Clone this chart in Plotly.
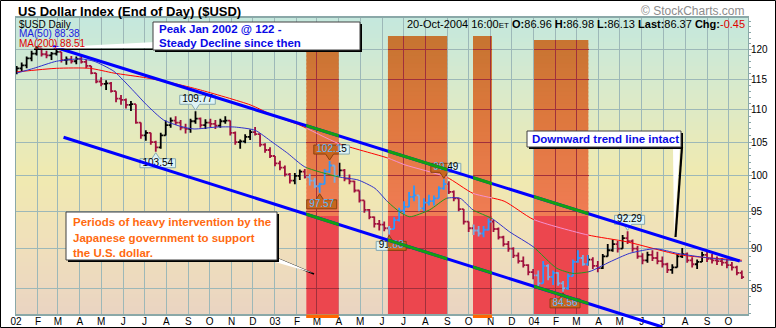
import numpy as np
import pandas as pd
import plotly.graph_objects as go

FONT = "Liberation Sans, Arial, sans-serif"

# ---------------- data ----------------
# Weekly bars of the US Dollar Index (mid-week dates)
week_dates = pd.date_range("2002-01-02", periods=147, freq="7D")
usd_open = [
    116.3, 116.8, 117.3, 118.5, 119.3, 120.2, 119.2, 119.0, 119.3, 119.6,
    118.2, 118.3, 118.0, 118.4, 117.9, 117.2, 116.0, 114.6, 114.2, 114.3,
    113.0, 111.8, 111.6, 110.8, 110.9, 108.0, 106.0, 106.4, 105.0, 104.2,
    106.0, 107.6, 108.3, 108.0, 107.2, 107.0, 108.2, 108.6, 107.6, 108.0,
    107.8, 107.5, 108.2, 108.3, 106.4, 105.0, 105.1, 105.8, 106.5, 106.2,
    104.6, 103.8, 102.9, 101.8, 101.2, 100.2, 99.3, 100.0, 100.6, 99.8,
    99.3, 98.5, 98.8, 100.6, 101.5, 100.0, 100.8, 99.6, 99.2, 97.9,
    96.5, 95.2, 94.2, 93.3, 93.2, 92.7, 92.6, 93.8, 95.1, 95.6,
    97.0, 97.2, 95.4, 96.2, 96.4, 96.8, 98.2, 98.8, 97.7, 96.8,
    95.3, 93.6, 92.7, 92.4, 92.0, 92.5, 93.6, 92.6, 91.5, 90.6,
    90.0, 89.1, 88.4, 87.9, 87.0, 86.6, 85.6, 87.8, 86.4, 86.9,
    85.6, 85.0, 86.5, 88.3, 88.8, 88.0, 88.6, 87.8, 87.5, 89.0,
    89.8, 90.6, 90.0, 91.4, 91.0, 90.0, 89.0, 88.5, 89.2, 88.8,
    88.4, 88.0, 87.3, 87.6, 89.0, 89.3, 88.5, 88.0, 88.3, 89.2,
    88.7, 88.5, 88.4, 88.2, 87.9, 87.6, 86.9,
]
usd_high = [
    117.2, 117.8, 118.8, 119.8, 120.6, 120.3, 119.8, 119.6, 120.4, 119.6,
    118.8, 118.9, 118.8, 118.9, 118.2, 117.2, 116.0, 115.3, 114.8, 114.5,
    113.0, 112.4, 111.8, 111.4, 110.9, 108.0, 106.8, 106.4, 105.2, 106.4,
    108.3, 108.8, 109.0, 108.4, 107.8, 108.6, 109.77, 108.8, 108.5, 108.6,
    108.4, 108.6, 109.0, 108.3, 106.6, 105.4, 106.2, 106.9, 107.3, 106.2,
    104.8, 104.2, 102.9, 102.2, 101.5, 100.4, 100.4, 100.9, 101.0, 100.3,
    99.7, 99.0, 101.0, 102.15, 101.5, 101.9, 101.0, 100.2, 99.3, 97.9,
    96.5, 95.3, 94.3, 93.8, 93.6, 93.0, 94.2, 95.5, 96.4, 97.7,
    98.6, 97.2, 96.8, 97.3, 97.2, 98.5, 99.49, 99.2, 97.9, 96.8,
    95.3, 93.6, 93.2, 93.0, 93.0, 94.0, 93.8, 92.8, 91.7, 91.0,
    90.2, 89.5, 89.0, 88.0, 87.4, 87.2, 88.4, 88.0, 87.2, 87.0,
    85.9, 86.8, 88.6, 89.8, 89.2, 89.2, 88.9, 88.4, 89.3, 90.6,
    91.2, 91.0, 91.8, 92.29, 91.2, 90.4, 89.4, 89.6, 89.8, 89.6,
    89.0, 88.2, 88.0, 89.3, 90.1, 89.5, 88.9, 88.6, 89.6, 89.6,
    89.3, 89.0, 88.8, 88.7, 88.3, 87.8, 87.2,
]
usd_low = [
    115.8, 116.2, 116.8, 118.0, 119.0, 118.8, 118.5, 118.2, 119.0, 117.8,
    117.4, 117.6, 117.5, 117.6, 116.8, 115.8, 114.3, 113.8, 113.2, 112.8,
    111.2, 110.8, 110.2, 109.8, 107.8, 105.5, 105.2, 104.6, 103.54, 104.0,
    106.0, 107.2, 107.6, 106.8, 106.3, 106.4, 107.8, 107.2, 107.0, 107.3,
    107.0, 107.2, 107.8, 106.0, 104.6, 104.0, 104.8, 105.3, 106.0, 104.3,
    103.4, 102.6, 101.4, 100.8, 99.9, 98.9, 98.8, 99.4, 99.6, 98.6,
    98.2, 97.57, 98.8, 100.4, 99.0, 99.9, 99.2, 98.8, 97.6, 96.2,
    94.8, 93.9, 92.8, 92.4, 92.3, 91.88, 92.6, 93.6, 94.6, 95.6,
    96.4, 95.0, 95.0, 95.8, 95.8, 96.8, 98.0, 97.4, 96.4, 95.0,
    93.2, 92.2, 91.8, 91.6, 91.5, 92.4, 92.2, 91.2, 90.3, 89.6,
    88.8, 88.1, 87.6, 86.6, 86.1, 85.2, 85.6, 86.0, 85.4, 85.3,
    84.56, 84.8, 86.5, 88.2, 87.8, 87.8, 87.4, 87.0, 87.4, 89.0,
    89.6, 89.5, 90.0, 90.6, 89.6, 88.7, 88.0, 88.2, 88.4, 88.0,
    87.6, 86.9, 86.8, 87.6, 88.8, 88.2, 87.6, 87.4, 88.3, 88.3,
    88.1, 87.9, 87.8, 87.5, 87.2, 86.6, 86.13,
]
usd_close = [
    116.8, 117.3, 118.5, 119.3, 120.2, 119.2, 119.0, 119.3, 119.6, 118.2,
    118.3, 118.0, 118.4, 117.9, 117.2, 116.0, 114.6, 114.2, 114.3, 113.0,
    111.8, 111.6, 110.8, 110.9, 108.0, 106.0, 106.4, 105.0, 104.2, 106.0,
    107.6, 108.3, 108.0, 107.2, 107.0, 108.2, 108.6, 107.6, 108.0, 107.8,
    107.5, 108.2, 108.3, 106.4, 105.0, 105.1, 105.8, 106.5, 106.2, 104.6,
    103.8, 102.9, 101.8, 101.2, 100.2, 99.3, 100.0, 100.6, 99.8, 99.3,
    98.5, 98.8, 100.6, 101.5, 100.0, 100.8, 99.6, 99.2, 97.9, 96.5,
    95.2, 94.2, 93.3, 93.2, 92.7, 92.6, 93.8, 95.1, 95.6, 97.0,
    97.2, 95.4, 96.2, 96.4, 96.8, 98.2, 98.8, 97.7, 96.8, 95.3,
    93.6, 92.7, 92.4, 92.0, 92.5, 93.6, 92.6, 91.5, 90.6, 90.0,
    89.1, 88.4, 87.9, 87.0, 86.6, 85.6, 87.8, 86.4, 86.9, 85.6,
    85.0, 86.5, 88.3, 88.8, 88.0, 88.6, 87.8, 87.5, 89.0, 89.8,
    90.6, 90.0, 91.4, 91.0, 90.0, 89.0, 88.5, 89.2, 88.8, 88.4,
    88.0, 87.3, 87.6, 89.0, 89.3, 88.5, 88.0, 88.3, 89.2, 88.7,
    88.5, 88.4, 88.2, 87.9, 87.6, 86.9, 86.37,
]

# Moving averages
ma50_dates = [
    "2002-01-02", "2002-01-26", "2002-02-27", "2002-04-02", "2002-04-21",
    "2002-05-19", "2002-06-16", "2002-07-04", "2002-07-28", "2002-08-21",
    "2002-09-09", "2002-10-11", "2002-11-05", "2002-12-04", "2002-12-28",
    "2003-01-19", "2003-02-12", "2003-03-31", "2003-04-28", "2003-05-22",
    "2003-06-09", "2003-06-26", "2003-07-10", "2003-08-07", "2003-08-31",
    "2003-09-19", "2003-10-07", "2003-11-03", "2003-11-28", "2003-12-31",
    "2004-02-02", "2004-02-25", "2004-03-20", "2004-04-17", "2004-05-15",
    "2004-06-20", "2004-07-21", "2004-08-18", "2004-09-23", "2004-10-20",
]
ma50_values = [
    116.0, 116.8, 118.0, 118.4, 118.0, 116.3, 113.0, 110.8, 108.4, 107.4,
    107.0, 107.3, 107.3, 106.8, 105.0, 103.3, 101.3, 99.85, 99.4, 98.2,
    96.3, 94.9, 94.25, 95.2, 96.8, 96.8, 95.2, 94.0, 92.2, 90.25,
    87.5, 86.85, 87.1, 88.3, 89.4, 90.0, 89.4, 89.0, 88.6, 88.38,
]
ma200_dates = [
    "2002-01-02", "2002-02-27", "2002-04-15", "2002-05-19", "2002-07-04",
    "2002-08-11", "2002-09-18", "2002-11-27", "2003-01-01", "2003-02-05",
    "2003-03-31", "2003-06-09", "2003-07-03", "2003-08-31", "2003-10-07",
    "2003-11-20", "2003-12-31", "2004-03-17", "2004-05-11", "2004-07-25",
    "2004-10-20",
]
ma200_values = [
    116.2, 116.8, 116.8, 116.0, 115.2, 114.3, 113.2, 110.8, 109.0, 107.6,
    104.8, 102.6, 101.6, 99.8, 97.5, 96.4, 93.9, 91.8, 90.9, 89.2,
    88.51,
]

# Periods of Japanese intervention
intervention_start = ["2003-02-14", "2003-06-09", "2003-10-07", "2004-01-01"]
intervention_end = ["2003-04-01", "2003-09-01", "2003-11-03", "2004-03-18"]

# Hand-drawn trend channel
upper_trend_dates = ["2002-02-22", "2004-10-17"]
upper_trend_values = [120.54, 88.42]
lower_trend_dates = ["2002-03-09", "2004-06-30"]
lower_trend_values = [105.72, 80.37]

# Price callouts at turning points
label_dates = ["2002-09-11", "2002-07-17", "2003-03-19", "2003-03-05",
               "2003-06-11", "2003-08-27", "2004-02-11", "2004-05-12"]
label_values = [109.77, 103.54, 102.15, 97.57, 91.88, 99.49, 84.56, 92.29]
label_sides = ["high", "low", "high", "low", "low", "high", "low", "high"]

# Last session quote
quote_date = "20-Oct-2004 16:00"
quote_open, quote_high, quote_low, quote_last, quote_chg = 86.96, 86.98, 86.13, 86.37, -0.45

month_ticks = pd.date_range("2002-01-01", "2004-10-01", freq="MS")
month_labels = ["02", "F", "M", "A", "M", "J", "J", "A", "S", "O", "N", "D",
                "03", "F", "M", "A", "M", "J", "J", "A", "S", "O", "N", "D",
                "04", "F", "M", "A", "M", "J", "J", "A", "S", "O"]
price_ticks = [85, 90, 95, 100, 105, 110, 115, 120]
minor_ticks = [v for v in range(82, 126) if v not in price_ticks]

# ---------------- geometry ----------------
W, H = 776, 328
ML, MR, MT, MB = 16, 28, 18, 14
PW, PH = W - ML - MR, H - MT - MB
X0 = pd.Timestamp("2002-01-01")
X1 = X0 + pd.Timedelta(days=1031.7)
R0, R1 = np.log10(81.897), np.log10(125.61)
DAY_PX = PW / 1031.7
DEC_PX = PH / (R1 - R0)


def xp(d):
    return (pd.Timestamp(d) - X0) / (X1 - X0)


def yp(v):
    return (np.log10(v) - R0) / (R1 - R0)


def fx(px):
    return (px - ML) / PW


def fy(py):
    return (H - MB - py) / PH


def price_at(py):
    return 10 ** (R0 + fy(py) * (R1 - R0))


def color_at(stops, py):
    ys = [s[0] for s in stops]
    rgb = [np.interp(py, ys, [s[1][i] for s in stops]) for i in range(3)]
    return "rgb(%d,%d,%d)" % tuple(int(round(c)) for c in rgb)


BG_STOPS = [(18, (196, 232, 222)), (100, (220, 234, 200)), (175, (240, 234, 176)),
            (240, (240, 224, 186)), (314, (234, 212, 194))]
RECT_UPPER_STOPS = [(36, (198, 116, 48)), (120, (222, 120, 62)), (216, (240, 124, 84))]
RECT_LOWER = "rgb(236,70,78)"
RECT_TOP = [36, 36, 36, 40]
RECT_SPLIT = 216
RECT_STRIP = [True, False, True, False]
GRID = "#9DB8B8"
FRAME = "#8AA8A8"
MAROON = "#A0303C"
BLUE_LINE = "#0000FF"
GREEN_LINE = "#12A012"


def label_geometry():
    xs, ys, tx, ty, txt = [], [], [], [], []
    for d, v, s in zip(label_dates, label_values, label_sides):
        t = pd.Timestamp(d)
        sg = -1 if s == "high" else 1
        text = f"{v:.2f}"
        w = 5.56 * (len(text) - 1) + 2.78 + 5

        def pt(dx, dy):
            return t + pd.Timedelta(days=dx / DAY_PX), v * 10 ** (-dy / DEC_PX)

        pts = [(-w / 2 + 2, 16 * sg), (w / 2 + 2, 16 * sg), (w / 2 + 2, 7 * sg), (4, 7 * sg),
               (0, 1 * sg), (-4, 7 * sg), (-w / 2 + 2, 7 * sg), (-w / 2 + 2, 16 * sg)]
        for dx, dy in pts:
            a, b = pt(dx, dy)
            xs.append(a)
            ys.append(b)
        xs.append(None)
        ys.append(None)
        a, b = pt(2, 11.5 * sg)
        tx.append(a)
        ty.append(b)
        txt.append(text)
    return xs, ys, tx, ty, txt


LBL_X, LBL_Y, LBL_TX, LBL_TY, LBL_TXT = label_geometry()


def add_series(fig, xa, ya, up, down, c50, c200, box_fill, box_line, txt_color):
    fig.add_trace(go.Ohlc(
        x=week_dates, open=usd_open, high=usd_high, low=usd_low, close=usd_close,
        increasing=dict(line=dict(color=up, width=1.8)),
        decreasing=dict(line=dict(color=down, width=1.8)),
        tickwidth=0.45, xaxis=xa, yaxis=ya, hoverinfo="skip", showlegend=False))
    fig.add_trace(go.Scatter(
        x=ma200_dates, y=ma200_values, mode="lines", xaxis=xa, yaxis=ya,
        line=dict(color=c200, width=1, shape="spline", smoothing=0.6),
        hoverinfo="skip", showlegend=False))
    fig.add_trace(go.Scatter(
        x=ma50_dates, y=ma50_values, mode="lines", xaxis=xa, yaxis=ya,
        line=dict(color=c50, width=1, shape="spline", smoothing=0.6),
        hoverinfo="skip", showlegend=False))
    fig.add_trace(go.Scatter(
        x=LBL_X, y=LBL_Y, mode="lines", fill="toself", fillcolor=box_fill,
        line=dict(color=box_line, width=1), xaxis=xa, yaxis=ya,
        hoverinfo="skip", showlegend=False))
    fig.add_trace(go.Scatter(
        x=LBL_TX, y=LBL_TY, mode="text", text=LBL_TXT, textposition="middle center",
        textfont=dict(family=FONT, size=10, color=txt_color), xaxis=xa, yaxis=ya,
        hoverinfo="skip", showlegend=False))


fig = go.Figure()
add_series(fig, "x", "y", "#000000", "#A0103C", "#3030CC", "#FF0000",
           "#DDF3F6", "#86A8B0", "#000000")

shapes = []
# chart background gradient
for py in np.arange(18, 314, 4):
    shapes.append(dict(type="rect", xref="paper", yref="paper", x0=0, x1=1,
                       y0=fy(min(py + 4.6, 314)), y1=fy(py), layer="below",
                       fillcolor=color_at(BG_STOPS, py + 2), line=dict(width=0)))

layout_axes = {}
for k, (s, e, top) in enumerate(zip(intervention_start, intervention_end, RECT_TOP), start=2):
    xa, ya = f"x{k}", f"y{k}"
    layout_axes[f"xaxis{k}"] = dict(
        type="date", domain=[xp(s), xp(e)], range=[s, e], anchor=ya, automargin=False,
        tickmode="array", tickvals=month_ticks, showticklabels=False, ticks="",
        showgrid=True, gridcolor=MAROON, gridwidth=1, showline=False, zeroline=False,
        rangeslider=dict(visible=False), fixedrange=True)
    layout_axes[f"yaxis{k}"] = dict(
        type="log", domain=[0, fy(top)], range=[R0, R0 + fy(top) * (R1 - R0)], anchor=xa,
        automargin=False, tickmode="array", tickvals=price_ticks, showticklabels=False,
        ticks="", showgrid=True, gridcolor=MAROON, gridwidth=1, showline=False,
        zeroline=False, fixedrange=True)
    # upper (orange) part of the highlighted period
    for py in np.arange(top, RECT_SPLIT, 4):
        shapes.append(dict(type="rect", xref=xa, yref=ya, x0=s, x1=e,
                           y0=price_at(min(py + 4.6, RECT_SPLIT)), y1=price_at(py - 0.5),
                           layer="below", fillcolor=color_at(RECT_UPPER_STOPS, py + 2),
                           line=dict(width=0)))
    # lower (red) part
    shapes.append(dict(type="rect", xref=xa, yref=ya, x0=s, x1=e,
                       y0=price_at(320), y1=price_at(RECT_SPLIT), layer="below",
                       fillcolor=RECT_LOWER, line=dict(width=0)))
    if RECT_STRIP[k - 2]:
        shapes.append(dict(type="rect", xref="x", yref="paper", x0=s, x1=e,
                           y0=fy(318), y1=fy(314.5), layer="above",
                           fillcolor="#FF6600", line=dict(width=0)))
    add_series(fig, xa, ya, "#2C98FF", "#78AEE4", "#1E9A1E", "#F590D0",
               "#C8661E", "#8A4010", "#5CB8FF")

# trend channel (blue), re-coloured green inside the highlighted periods
for dates, vals in ((upper_trend_dates, upper_trend_values), (lower_trend_dates, lower_trend_values)):
    shapes.append(dict(type="line", xref="x", yref="paper", x0=dates[0], x1=dates[1],
                       y0=yp(vals[0]), y1=yp(vals[1]), layer="above",
                       line=dict(color=BLUE_LINE, width=3)))
for k in range(2, 2 + len(intervention_start)):
    for dates, vals in ((upper_trend_dates, upper_trend_values), (lower_trend_dates, lower_trend_values)):
        shapes.append(dict(type="line", xref=f"x{k}", yref="paper", x0=dates[0], x1=dates[1],
                           y0=yp(vals[0]), y1=yp(vals[1]), layer="above",
                           line=dict(color=GREEN_LINE, width=3)))


def note_box(x0, y0, x1, y1):
    shapes.append(dict(type="rect", xref="paper", yref="paper", x0=fx(x0 + 2), x1=fx(x1 + 2),
                       y0=fy(y1 + 2), y1=fy(y0 + 2), layer="above",
                       fillcolor="#000000", line=dict(width=0)))
    shapes.append(dict(type="rect", xref="paper", yref="paper", x0=fx(x0), x1=fx(x1),
                       y0=fy(y1), y1=fy(y0), layer="above",
                       fillcolor="#FFFFFF", line=dict(color="#404040", width=1)))


def tail(points, shadow, shadow_width=1.5):
    path = "M " + " L ".join(f"{fx(a)},{fy(b)}" for a, b in points) + " Z"
    shp = "M " + " L ".join(f"{fx(a)},{fy(b)}" for a, b in shadow)
    shapes.append(dict(type="path", xref="paper", yref="paper", path=shp, layer="above",
                       line=dict(color="#000000", width=shadow_width)))
    shapes.append(dict(type="path", xref="paper", yref="paper", path=path, layer="above",
                       fillcolor="#FFFFFF", line=dict(width=0)))


tail([(156, 42), (156, 48), (34, 48.3)], [(34, 49.3), (157, 49.3)])
note_box(153, 22, 360, 50)
tail([(258, 257), (275, 257), (313, 273)], [(276, 258), (314, 274)])
note_box(66, 212, 277, 260)
tail([(673, 146), (680, 146), (674, 236)], [(682, 147), (675.5, 237)], shadow_width=2.2)
note_box(527, 131, 681, 147)

# outer frame of the image
shapes.append(dict(type="rect", xref="paper", yref="paper", x0=fx(0.5), x1=fx(775.5),
                   y0=fy(327.5), y1=fy(0.5), layer="above", line=dict(color="#000000", width=1)))

annotations = []


def text(x, y, s, size=11, color="#000000", anchor="left"):
    annotations.append(dict(xref="paper", yref="paper", x=fx(x), y=fy(y), text=s,
                            showarrow=False, xanchor=anchor, yanchor="middle",
                            font=dict(family=FONT, size=size, color=color)))


text(16, 11.3, "<b>US Dollar Index (End of Day) ($USD)</b>", size=13)
text(747, 11.3, "© StockCharts.com", size=12, color="#8C8C8C", anchor="right")
text(747, 24, f"{quote_date}<span style='font-size:8px'>ET</span> <b>O:</b>{quote_open:.2f} "
     f"<b>H:</b>{quote_high:.2f} <b>L:</b>{quote_low:.2f} <b>Last:</b>{quote_last:.2f} "
     f"<b>Chg:</b><span style='color:#E00000'>{quote_chg:.2f}</span>", size=11, anchor="right")
text(17, 24, "$USD Daily", size=10)
text(17, 33.6, f"MA(50) {ma50_values[-1]:.2f}", size=10, color="#2020E0")
text(17, 43.3, f"MA(200) {ma200_values[-1]:.2f}", size=10, color="#E00000")

BLUE_TXT = "#0A0AE6"
ORANGE_TXT = "#FF6A10"
text(157, 28.7, "<b>Peak Jan 2002 @ 122 -</b>", size=11.5, color=BLUE_TXT)
text(157, 42.7, "<b>Steady Decline since then</b>", size=11.5, color=BLUE_TXT)
text(71, 222, "<b>Periods of heavy intervention by the</b>", size=11.5, color=ORANGE_TXT)
text(71, 237.5, "<b>Japanese government to support</b>", size=11.5, color=ORANGE_TXT)
text(71, 252.5, "<b>the U.S. dollar.</b>", size=11.5, color=ORANGE_TXT)
text(530, 139.3, "<b>Downward trend line intact</b>", size=11.5, color=BLUE_TXT)

fig.update_layout(
    width=W, height=H, autosize=False,
    margin=dict(l=ML, r=MR, t=MT, b=MB, pad=0, autoexpand=False),
    paper_bgcolor="#FFFFFF", plot_bgcolor="rgba(0,0,0,0)",
    showlegend=False, hovermode=False,
    font=dict(family=FONT, size=10, color="#000000"),
    xaxis=dict(type="date", range=[X0, X1], tickmode="array", tickvals=month_ticks,
               ticktext=month_labels, showgrid=True, gridcolor=GRID, gridwidth=1,
               showline=True, linecolor=FRAME, linewidth=1.5, mirror=True, ticks="",
               ticklabelstandoff=-3, tickfont=dict(family=FONT, size=10), automargin=False,
               zeroline=False, rangeslider=dict(visible=False), fixedrange=True),
    yaxis=dict(type="log", range=[R0, R1], side="right", tickmode="array",
               tickvals=price_ticks, ticktext=[str(v) for v in price_ticks],
               showgrid=True, gridcolor=GRID, gridwidth=1, showline=True,
               linecolor=FRAME, linewidth=1, mirror=True, ticks="outside", ticklen=3,
               tickcolor=FRAME, tickfont=dict(family=FONT, size=10), zeroline=False,
               automargin=False, ticklabelstandoff=-3,
               minor=dict(tickmode="array", tickvals=minor_ticks, ticks="outside",
                          ticklen=2, tickcolor=FRAME, showgrid=False),
               fixedrange=True),
    shapes=shapes,
    annotations=annotations,
    **layout_axes,
)

fig.write_html("out.html")
